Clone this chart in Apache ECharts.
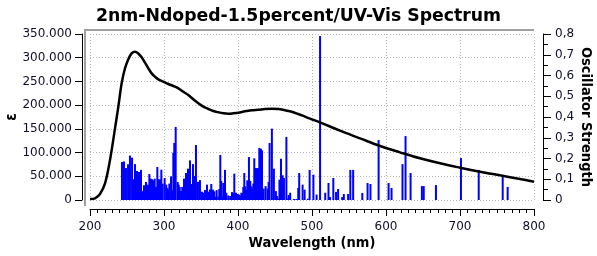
<!DOCTYPE html>
<html>
<head>
<meta charset="utf-8">
<script src="https://cdn.jsdelivr.net/npm/echarts@6/dist/echarts.min.js"></script>
<style>
html,body{margin:0;padding:0;background:#fff;}
#chart{width:597px;height:256px;}
</style>
</head>
<body>
<div id="chart"></div>
<script>
// Broadened UV-Vis spectrum (epsilon vs wavelength)
var curveWavelengths = [200, 206.8, 213.5, 220.3, 227, 233.8, 238.3, 242.8, 247.3, 251.8, 256.3, 260.8, 265.3, 269.8, 274.3, 278.8, 283.3, 287.8, 292.3, 299, 305.8, 312.6, 319.4, 326.1, 332.8, 339.6, 346.4, 353.2, 359.9, 366.6, 373.4, 380.2, 386.9, 393.7, 400.4, 409.5, 418.5, 427.5, 436.5, 445.5, 454.5, 463.5, 472.5, 481.5, 490.5, 497.3, 510.8, 537.8, 564.9, 591.9, 618.9, 645.9, 673, 700, 727, 754.1, 781.1, 800];
var curveEpsilon = [2100, 3600, 12600, 35000, 84000, 151000, 197000, 246000, 277700, 297000, 309000, 312700, 309000, 300800, 289500, 277700, 267000, 260000, 254400, 249500, 244600, 240400, 235500, 228300, 221400, 212300, 203900, 196700, 191900, 187600, 184900, 182800, 182000, 182800, 184100, 187000, 189100, 190400, 191900, 192600, 191900, 189100, 186200, 181300, 175700, 171500, 163800, 146200, 130000, 113900, 100500, 87900, 77300, 68200, 59700, 52000, 44300, 38600];

// Oscillator strengths (sticks)
var stickWavelengths = [243.2, 245.9, 248.6, 251.4, 254.0, 256.8, 258.1, 259.5, 260.8, 263.5, 266.2, 268.9, 270.3, 273.0, 275.7, 278.4, 280.2, 282.0, 283.8, 285.6, 287.4, 289.2, 291.0, 292.8, 294.6, 296.4, 298.2, 300.9, 303.0, 304.5, 305.8, 307.2, 309.5, 311.2, 312.6, 313.9, 315.8, 318.5, 319.8, 321.2, 323.0, 324.7, 327.0, 329.7, 332.4, 335.1, 337.8, 339.2, 341.9, 343.2, 345.9, 348.6, 351.3, 352.7, 355.4, 358.1, 360.8, 362.1, 363.9, 366.2, 368.0, 369.3, 371.1, 373.4, 374.7, 376.1, 377.4, 378.8, 380.1, 382.4, 384.2, 386.9, 389.6, 391.9, 393.7, 395.0, 397.3, 399.5, 401.3, 403.1, 404.5, 405.8, 407.2, 408.5, 409.9, 411.2, 412.6, 414.8, 416.6, 418.0, 419.3, 420.7, 422.0, 424.3, 427.0, 428.8, 431.0, 432.4, 434.6, 437.3, 440.0, 441.3, 442.7, 445.8, 448.5, 451.2, 452.9, 454.0, 456.0, 458.1, 460.4, 462.1, 465.4, 467.1, 468.5, 470.5, 475.5, 478.8, 481.4, 482.7, 487.3, 490.0, 494.3, 496.8, 501.9, 506.2, 510.9, 517.9, 522.3, 524.3, 528.8, 532.5, 535.3, 540.8, 543.0, 548.8, 551.8, 555.6, 568.0, 575.1, 579.0, 590.0, 603.5, 607.5, 622.3, 626.4, 633.2, 648.5, 651.0, 667.5, 701.3, 725.3, 757.7, 764.4];
var stickStrengths = [0.183, 0.186, 0.154, 0.172, 0.214, 0.204, 0.100, 0.090, 0.173, 0.140, 0.135, 0.145, 0.043, 0.071, 0.087, 0.074, 0.125, 0.103, 0.100, 0.095, 0.103, 0.063, 0.159, 0.100, 0.100, 0.146, 0.079, 0.106, 0.074, 0.058, 0.050, 0.079, 0.114, 0.047, 0.228, 0.275, 0.352, 0.087, 0.074, 0.063, 0.043, 0.063, 0.103, 0.130, 0.151, 0.191, 0.077, 0.173, 0.116, 0.265, 0.087, 0.096, 0.040, 0.035, 0.048, 0.074, 0.040, 0.051, 0.077, 0.050, 0.042, 0.016, 0.048, 0.016, 0.053, 0.217, 0.092, 0.016, 0.082, 0.145, 0.035, 0.022, 0.019, 0.038, 0.032, 0.127, 0.035, 0.029, 0.026, 0.022, 0.035, 0.034, 0.063, 0.130, 0.066, 0.050, 0.095, 0.207, 0.092, 0.066, 0.055, 0.079, 0.201, 0.154, 0.154, 0.251, 0.247, 0.239, 0.055, 0.067, 0.055, 0.087, 0.275, 0.344, 0.151, 0.043, 0.019, 0.006, 0.098, 0.199, 0.119, 0.106, 0.304, 0.006, 0.024, 0.035, 0.005, 0.005, 0.058, 0.130, 0.074, 0.050, 0.006, 0.145, 0.122, 0.026, 0.790, 0.035, 0.082, 0.014, 0.106, 0.039, 0.053, 0.014, 0.029, 0.029, 0.145, 0.145, 0.034, 0.082, 0.077, 0.289, 0.082, 0.058, 0.173, 0.308, 0.130, 0.067, 0.067, 0.072, 0.202, 0.145, 0.113, 0.063];

var titleText = '2nm-Ndoped-1.5percent/UV-Vis Spectrum';
var xName = 'Wavelength (nm)';
var yLeftName = 'ε';
var yRightName = 'Oscillator Strength';

var curveData = curveWavelengths.map(function (w, i) { return [w, curveEpsilon[i]]; });
var stickData = stickWavelengths.map(function (w, i) { return [w, stickStrengths[i]]; });

var FONT = 'DejaVu Sans';
var NAMEFONT = '"DejaVu Sans Condensed", "DejaVu Sans"';
var TXT = '#10102a';
var gridLine = { show: true, lineStyle: { color: '#b8b8b8', width: 1, type: [1, 2] } };

var chart = echarts.init(document.getElementById('chart'), null, { renderer: 'canvas' });
chart.setOption({
  animation: false,
  backgroundColor: '#fff',
  title: {
    text: titleText, left: 'center', top: 3,
    textStyle: { fontFamily: FONT, fontWeight: 'bold', fontSize: 17.3, color: '#000' }
  },
  grid: { left: 90, right: 63, top: 34, bottom: 56, containLabel: false, outerBoundsMode: 'none' },
  graphic: [
    { type: 'line', shape: { x1: 85, y1: 30, x2: 534, y2: 30 }, style: { stroke: '#a0a0a0', lineWidth: 2 }, silent: true },
    { type: 'line', shape: { x1: 85, y1: 29, x2: 85, y2: 206 }, style: { stroke: '#a0a0a0', lineWidth: 2 }, silent: true }
  ],
  xAxis: {
    type: 'value', min: 200, max: 800, interval: 100, position: 'bottom', offset: 9,
    name: xName, nameLocation: 'middle', nameGap: 27, nameMoveOverlap: false,
    nameTextStyle: { fontFamily: NAMEFONT, fontWeight: 'bold', fontSize: 14.5, color: '#000' },
    axisLine: { show: true, onZero: false, lineStyle: { color: '#000', width: 1 } },
    axisTick: { show: true, length: 7, lineStyle: { color: '#000' } },
    minorTick: { show: true, splitNumber: 10, length: 4, lineStyle: { color: '#000' } },
    axisLabel: { fontFamily: FONT, fontSize: 12, color: TXT, margin: 12 },
    splitLine: gridLine
  },
  yAxis: [
    {
      type: 'value', min: 0, max: 350000, interval: 50000, position: 'left', offset: 8,
      name: yLeftName, nameLocation: 'middle', nameGap: 62, nameMoveOverlap: false,
      nameTextStyle: { fontFamily: NAMEFONT, fontWeight: 'bold', fontSize: 15, color: '#000' },
      axisLine: { show: true, onZero: false, lineStyle: { color: '#000', width: 1 } },
      axisTick: { show: true, length: 7, lineStyle: { color: '#000' } },
      axisLabel: {
        fontFamily: FONT, fontSize: 12, color: TXT, margin: 10,
        formatter: function (v) { return v === 0 ? '0' : String(v).replace(/\B(?=(\d{3})+(?!\d))/g, '.'); }
      },
      splitLine: gridLine
    },
    {
      type: 'value', min: 0, max: 0.8, interval: 0.1, position: 'right', offset: 9,
      name: yRightName, nameLocation: 'middle', nameGap: 35, nameRotate: -90, nameMoveOverlap: false,
      nameTextStyle: { fontFamily: NAMEFONT, fontWeight: 'bold', fontSize: 14.5, color: '#000' },
      axisLine: { show: true, onZero: false, lineStyle: { color: '#000', width: 1 } },
      axisTick: { show: true, length: 8, lineStyle: { color: '#000' } },
      minorTick: { show: true, splitNumber: 2, length: 5, lineStyle: { color: '#000' } },
      axisLabel: {
        fontFamily: FONT, fontSize: 12, color: TXT, margin: 12,
        formatter: function (v) { return v === 0 ? '0' : v.toFixed(1).replace('.', ','); }
      },
      splitLine: { show: false }
    }
  ],
  series: [
    {
      type: 'bar', xAxisIndex: 0, yAxisIndex: 1, data: stickData, barWidth: 2,
      itemStyle: { color: '#0000ff' }, silent: true, z: 2
    },
    {
      type: 'line', xAxisIndex: 0, yAxisIndex: 0, data: curveData, smooth: 0.35,
      showSymbol: false, symbol: 'none',
      lineStyle: { color: '#000', width: 2.5 }, silent: true, z: 3
    }
  ]
});
</script>
</body>
</html>
